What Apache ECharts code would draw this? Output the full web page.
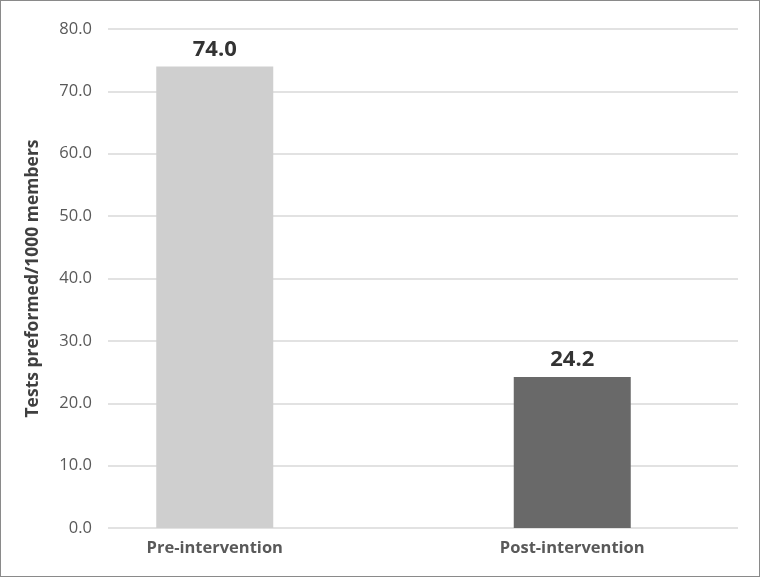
<!DOCTYPE html>
<html>
<head>
<meta charset="utf-8">
<script src="https://cdn.jsdelivr.net/npm/echarts@6/dist/echarts.min.js"></script>
<style>
html,body{margin:0;padding:0;background:#fff;}
#c{width:760px;height:577px;box-sizing:border-box;border:1.5px solid #8a8a8a;}
</style>
</head>
<body>
<div id="c"></div>
<script>
const categories = ['Pre-intervention', 'Post-intervention'];
const values = [74.0, 24.2];
const barColors = ['#CFCFCF', '#696969'];
const yTicks = { min: 0, max: 80, interval: 10 };
const yAxisTitle = 'Tests preformed/1000 members';

const chart = echarts.init(document.getElementById('c'), null, { renderer: 'canvas' });
const font = 'Open Sans, Noto Sans, sans-serif';
chart.setOption({
  animation: false,
  grid: [
    { left: 107, right: 21, top: 28, bottom: 48 },
    { left: 35, right: 8, top: 28, bottom: 48 }
  ],
  xAxis: [
    { gridIndex: 0, type: 'category', data: categories, show: false },
    {
      gridIndex: 1, type: 'category', data: categories,
      axisLine: { show: false }, axisTick: { show: false },
      axisLabel: { color: '#595959', fontSize: 16.5, fontWeight: 'bold', fontFamily: font, margin: 12 }
    }
  ],
  yAxis: [
    {
      gridIndex: 0, type: 'value', min: yTicks.min, max: yTicks.max, interval: yTicks.interval,
      name: yAxisTitle, nameLocation: 'middle', nameRotate: 90, nameGap: 66,
      nameTextStyle: { color: '#404040', fontSize: 17.5, fontWeight: 'bold', fontFamily: font },
      axisLine: { show: false }, axisTick: { show: false },
      axisLabel: { color: '#595959', fontSize: 16.5, fontFamily: font, margin: 16, formatter: v => v.toFixed(1) },
      splitLine: { lineStyle: { color: '#D9D9D9', width: 1.5 } }
    },
    {
      gridIndex: 1, type: 'value', min: yTicks.min, max: yTicks.max, interval: yTicks.interval, show: false
    }
  ],
  series: [{
    type: 'bar',
    xAxisIndex: 1, yAxisIndex: 1,
    barWidth: 117,
    data: values.map((v, i) => ({ value: v, itemStyle: { color: barColors[i] } })),
    label: {
      show: true, position: 'top', distance: 6,
      color: '#333333', fontSize: 22, fontWeight: 'bold', fontFamily: font,
      formatter: p => p.value.toFixed(1)
    }
  }]
});
</script>
</body>
</html>
